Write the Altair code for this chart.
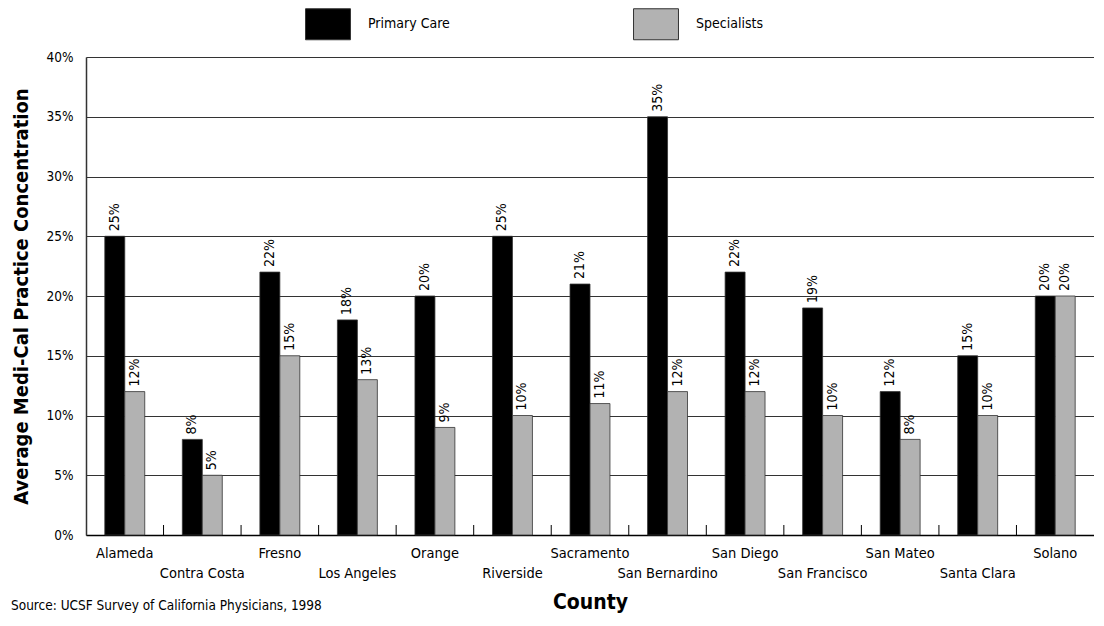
import altair as alt
import pandas as pd

counties = ["Alameda", "Contra Costa", "Fresno", "Los Angeles", "Orange", "Riverside",
            "Sacramento", "San Bernardino", "San Diego", "San Francisco", "San Mateo",
            "Santa Clara", "Solano"]
primary_care = [25, 8, 22, 18, 20, 25, 21, 35, 22, 19, 12, 15, 20]
specialists = [12, 5, 15, 13, 9, 10, 11, 12, 12, 10, 8, 10, 20]
series = ["Primary Care", "Specialists"]
colors = ["#000000", "#b2b2b2"]

rows = []
for c, p, s in zip(counties, primary_care, specialists):
    rows.append({"County": c, "Series": series[0], "Value": p / 100})
    rows.append({"County": c, "Series": series[1], "Value": s / 100})
df = pd.DataFrame(rows)
ticks_df = pd.DataFrame({"County": counties[:-1]})

FONT = "DejaVu Sans Condensed, sans-serif"
W, H = 1008, 478
STEP = W / len(counties)

lower = counties[1::2]
lower_expr = "[" + ",".join("'" + c + "'" for c in lower) + "]"

x_scale = alt.Scale(domain=counties, paddingInner=0.485, paddingOuter=0.2425)
y_scale = alt.Scale(domain=[0, 0.40])

x_enc = alt.X("County:N", scale=x_scale, sort=counties,
              axis=alt.Axis(title="County", labelAngle=0, ticks=False,
                            labelExpr="indexof(" + lower_expr + ", datum.value) >= 0 ? ['', datum.label] : datum.label",
                            labelLineHeight=20, labelPadding=11, labelBaseline="top",
                            labelFontSize=14.5, labelFont=FONT, labelColor="#000",
                            titleFont=FONT, titleFontSize=21, titleFontWeight="bold",
                            titlePadding=12, titleColor="#000",
                            domainColor="#000", domainWidth=1.5, grid=False))
y_enc = alt.Y("Value:Q", scale=y_scale,
              axis=alt.Axis(title="Average Medi-Cal Practice Concentration", format=".0%",
                            values=[i / 100 for i in range(0, 41, 5)],
                            ticks=False, labelPadding=13, labelFontSize=13.5, labelFont=FONT,
                            labelColor="#000", titleFont=FONT, titleFontSize=20,
                            titleFontWeight="bold", titlePadding=15, titleColor="#000",
                            domainColor="#333", domainWidth=1.5,
                            grid=True, gridColor="#333", gridWidth=1))

color_enc = alt.Color("Series:N", scale=alt.Scale(domain=series, range=colors),
                      legend=alt.Legend(title=None, orient="none", legendX=226, legendY=-49,
                                        direction="horizontal", columns=2, gridAlign="all",
                                        symbolType="M-1.45,-1L1.45,-1L1.45,1L-1.45,1Z",
                                        symbolSize=961, symbolStrokeColor="#333",
                                        symbolStrokeWidth=1, symbolOpacity=1,
                                        labelFont=FONT, labelFontSize=14, labelColor="#000",
                                        labelOffset=24, columnPadding=181, padding=0))

bars = alt.Chart(df).mark_bar(stroke="#333", strokeWidth=0.8, opacity=1).encode(
    x=x_enc,
    y=y_enc,
    xOffset=alt.XOffset("Series:N", sort=series, scale=alt.Scale(paddingInner=0, paddingOuter=0)),
    color=color_enc,
)

labels = alt.Chart(df).mark_text(angle=270, align="left", baseline="middle", dx=5,
                                 font=FONT, fontSize=14, color="#000").encode(
    x=alt.X("County:N", sort=counties),
    y=alt.Y("Value:Q"),
    xOffset=alt.XOffset("Series:N", sort=series),
    text=alt.Text("Value:Q", format=".0%"),
)

tick_rules = alt.Chart(ticks_df).mark_rule(color="#000", strokeWidth=1, xOffset=STEP / 2).encode(
    x=alt.X("County:N", sort=counties),
    y=alt.value(H - 10),
    y2=alt.value(H),
)

chart = alt.layer(bars, labels, tick_rules).properties(
    width=W, height=H,
    padding={"left": 3, "top": 0, "right": 0, "bottom": 0},
    title=alt.Title("Source: UCSF Survey of California Physicians, 1998", orient="bottom",
                    anchor="start", frame="bounds", font=FONT, fontSize=13.5,
                    fontWeight="normal", color="#000", offset=-14),
).configure_view(stroke=None).configure(background="white")

chart.save("out.html", embed_options={"renderer": "svg", "actions": False})
